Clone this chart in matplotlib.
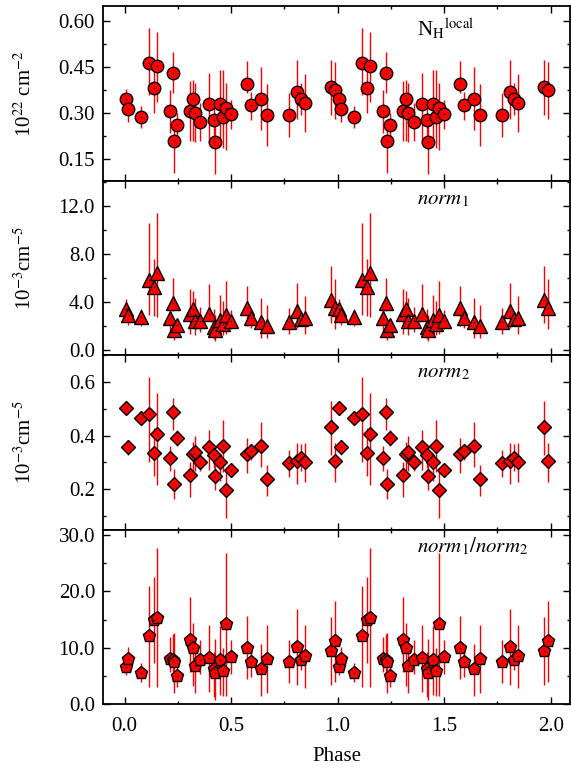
import matplotlib
matplotlib.use('Agg')
import matplotlib.pyplot as plt
from matplotlib.ticker import MultipleLocator, FormatStrFormatter
import numpy as np

plt.rcParams['font.family'] = 'Liberation Serif'
plt.rcParams['mathtext.fontset'] = 'stix'

# ========== Data (one cycle, plotted twice) ==========
phase = np.array([0.005, 0.015, 0.075, 0.114, 0.136, 0.151, 0.212, 0.228, 0.232, 0.245,
                  0.307, 0.320, 0.331, 0.356, 0.397, 0.421, 0.425, 0.449, 0.461, 0.477,
                  0.498, 0.576, 0.594, 0.641, 0.670, 0.770, 0.807, 0.827, 0.845, 0.969, 0.986])

# N_H local (10^22 cm^-2)
nh = np.array([0.346, 0.314, 0.287, 0.465, 0.381, 0.455, 0.307, 0.430, 0.208, 0.262,
               0.308, 0.346, 0.301, 0.271, 0.330, 0.277, 0.207, 0.330, 0.288, 0.316,
               0.297, 0.396, 0.326, 0.346, 0.293, 0.293, 0.369, 0.346, 0.335, 0.385, 0.377])
nh_lo = np.array([0.308, 0.272, 0.253, 0.359, 0.300, 0.338, 0.236, 0.365, 0.105, 0.220,
                  0.209, 0.209, 0.207, 0.210, 0.200, 0.210, 0.103, 0.200, 0.188, 0.180,
                  0.250, 0.365, 0.277, 0.245, 0.193, 0.223, 0.280, 0.294, 0.239, 0.294, 0.280])
nh_hi = np.array([0.378, 0.345, 0.323, 0.580, 0.460, 0.566, 0.376, 0.499, 0.270, 0.300,
                  0.406, 0.408, 0.398, 0.335, 0.430, 0.340, 0.270, 0.441, 0.441, 0.400,
                  0.345, 0.472, 0.370, 0.452, 0.395, 0.365, 0.474, 0.400, 0.428, 0.474, 0.467])

# norm1 (10^-3 cm^-5)
norm1 = np.array([3.39, 2.89, 2.69, 5.83, 5.19, 6.39, 2.61, 3.86, 1.67, 2.06,
                  2.97, 3.39, 2.42, 2.42, 2.97, 1.86, 1.67, 2.50, 2.17, 2.92,
                  2.36, 3.44, 2.64, 2.28, 1.97, 2.28, 3.25, 2.53, 2.61, 4.17, 3.50])
norm1_lo = np.array([2.6, 2.1, 2.0, 2.9, 2.8, 2.75, 1.6, 3.2, 0.8, 1.3,
                     1.3, 1.9, 1.2, 1.45, 2.4, 0.9, 0.75, 1.3, 1.2, 1.3,
                     1.7, 2.0, 1.85, 1.0, 0.95, 1.3, 1.8, 2.1, 1.35, 2.2, 1.7])
norm1_hi = np.array([4.2, 3.6, 3.4, 10.6, 7.6, 11.4, 3.3, 6.0, 2.2, 2.5,
                     5.1, 4.9, 4.3, 3.6, 5.5, 3.4, 2.9, 4.6, 4.1, 5.7,
                     3.3, 5.3, 3.2, 4.3, 3.7, 3.5, 5.6, 3.1, 4.5, 7.0, 5.9])

# norm2 (10^-3 cm^-5)
norm2 = np.array([0.503, 0.356, 0.467, 0.479, 0.337, 0.407, 0.316, 0.488, 0.220, 0.390,
                  0.253, 0.332, 0.338, 0.301, 0.356, 0.326, 0.248, 0.301, 0.361, 0.199,
                  0.272, 0.332, 0.343, 0.363, 0.237, 0.297, 0.307, 0.317, 0.300, 0.432, 0.307])
norm2_lo = np.array([0.475, 0.326, 0.445, 0.300, 0.250, 0.216, 0.267, 0.420, 0.163, 0.363,
                     0.172, 0.270, 0.270, 0.270, 0.272, 0.280, 0.197, 0.232, 0.263, 0.092,
                     0.247, 0.260, 0.310, 0.282, 0.176, 0.247, 0.220, 0.270, 0.226, 0.326, 0.226])
norm2_hi = np.array([0.530, 0.385, 0.490, 0.620, 0.430, 0.560, 0.360, 0.540, 0.275, 0.420,
                     0.300, 0.376, 0.400, 0.330, 0.420, 0.370, 0.290, 0.320, 0.460, 0.270,
                     0.295, 0.390, 0.370, 0.450, 0.290, 0.347, 0.372, 0.370, 0.372, 0.530, 0.372])

# norm1/norm2
ratio = np.array([6.49, 8.02, 5.55, 12.04, 14.99, 15.34, 8.08, 7.90, 7.43, 4.96,
                  11.45, 9.97, 6.73, 7.79, 8.14, 6.19, 5.43, 7.85, 5.84, 14.16,
                  8.44, 10.03, 7.43, 6.14, 8.08, 7.49, 10.21, 7.79, 8.55, 9.50, 11.15])
ratio_lo = np.array([5.1, 6.0, 3.95, 3.0, 7.3, 3.0, 5.7, 4.0, 1.9, 3.1,
                     5.7, 3.2, 1.9, 5.4, 2.2, 1.3, 0.7, 1.6, 1.4, 1.4,
                     5.4, 4.5, 4.8, 1.4, 1.9, 3.7, 3.4, 6.0, 2.8, 3.4, 3.9])
ratio_hi = np.array([7.3, 10.15, 7.2, 20.9, 22.5, 27.8, 11.9, 12.5, 12.6, 6.6,
                     19.1, 14.4, 9.6, 11.3, 14.0, 9.3, 11.6, 13.8, 10.0, 26.9,
                     11.3, 15.6, 10.4, 10.6, 14.1, 11.3, 16.8, 10.1, 14.1, 15.5, 18.3])


# ========== Helpers ==========
def draw_panel(ax, val, lo, hi, marker, ms):
    x = np.concatenate([phase, phase + 1])
    y = np.concatenate([val, val])
    yerr = np.array([np.concatenate([val - lo, val - lo]),
                     np.concatenate([hi - val, hi - val])])
    ax.errorbar(x, y, yerr=yerr, fmt='none', ecolor='red', elinewidth=1.0,
                capsize=0, zorder=2)
    ax.plot(x, y, linestyle='none', marker=marker, ms=ms, mfc='red', mec='black',
            mew=1.0, zorder=3)
    ax.plot(x, y, linestyle='none', marker='o', ms=1.0, mfc='black', mew=0, zorder=4)


def style_axis(ax, ylim, major, minor, fmt):
    ax.set_xlim(-0.1, 2.09)
    ax.set_ylim(*ylim)
    ax.xaxis.set_major_locator(MultipleLocator(0.5))
    ax.xaxis.set_minor_locator(MultipleLocator(0.25))
    ax.yaxis.set_major_locator(MultipleLocator(major))
    ax.yaxis.set_minor_locator(MultipleLocator(minor))
    ax.yaxis.set_major_formatter(FormatStrFormatter(fmt))
    ax.xaxis.set_major_formatter(FormatStrFormatter('%.1f'))
    ax.tick_params(which='both', direction='in', top=True, right=True, width=1.0,
                   labelsize=15)
    ax.tick_params(which='major', length=5)
    ax.tick_params(which='minor', length=2.5)
    ax.tick_params(axis='y', pad=6)
    ax.tick_params(axis='x', pad=9)
    for s in ax.spines.values():
        s.set_linewidth(1.3)


# ========== Figure ==========
fig, axes = plt.subplots(4, 1, figsize=(5.71, 7.69), dpi=100, sharex=True)
fig.subplots_adjust(left=0.181, right=0.998, top=0.992, bottom=0.0845, hspace=0)

ax = axes[0]
draw_panel(ax, nh, nh_lo, nh_hi, 'o', 9)
style_axis(ax, (0.08, 0.65), 0.15, 0.075, '%.2f')
ax.set_ylabel(r'10$^{22}$ cm$^{-2}$', fontsize=15)
ax.text(0.672, 0.83, r'N$_\mathrm{H}{}^\mathrm{local}$', transform=ax.transAxes,
        fontsize=15, va='baseline')

ax = axes[1]
draw_panel(ax, norm1, norm1_lo, norm1_hi, '^', 10)
style_axis(ax, (-0.45, 14.1), 4.0, 2.0, '%.1f')
ax.set_ylabel(r'10$^{-3}$cm$^{-5}$', fontsize=15)
ax.text(0.672, 0.866, r'$\mathit{norm}_\mathit{1}$', transform=ax.transAxes,
        fontsize=15, va='baseline')

ax = axes[2]
draw_panel(ax, norm2, norm2_lo, norm2_hi, 'D', 7)
style_axis(ax, (0.05, 0.70), 0.2, 0.1, '%.1f')
ax.set_ylabel(r'10$^{-3}$cm$^{-5}$', fontsize=15)
ax.text(0.672, 0.87, r'$\mathit{norm}_\mathit{2}$', transform=ax.transAxes,
        fontsize=15, va='baseline')

ax = axes[3]
draw_panel(ax, ratio, ratio_lo, ratio_hi, 'p', 9.5)
style_axis(ax, (0.0, 31.0), 10.0, 5.0, '%.1f')
ax.text(0.672, 0.87, r'$\mathit{norm}_\mathit{1}/\mathit{norm}_\mathit{2}$',
        transform=ax.transAxes, fontsize=15, va='baseline')
ax.set_xlabel('Phase', fontsize=15, labelpad=8)

for a in axes[:3]:
    a.yaxis.set_label_coords(-0.145, 0.5)

plt.savefig('out.png', dpi=100)
plt.close()
